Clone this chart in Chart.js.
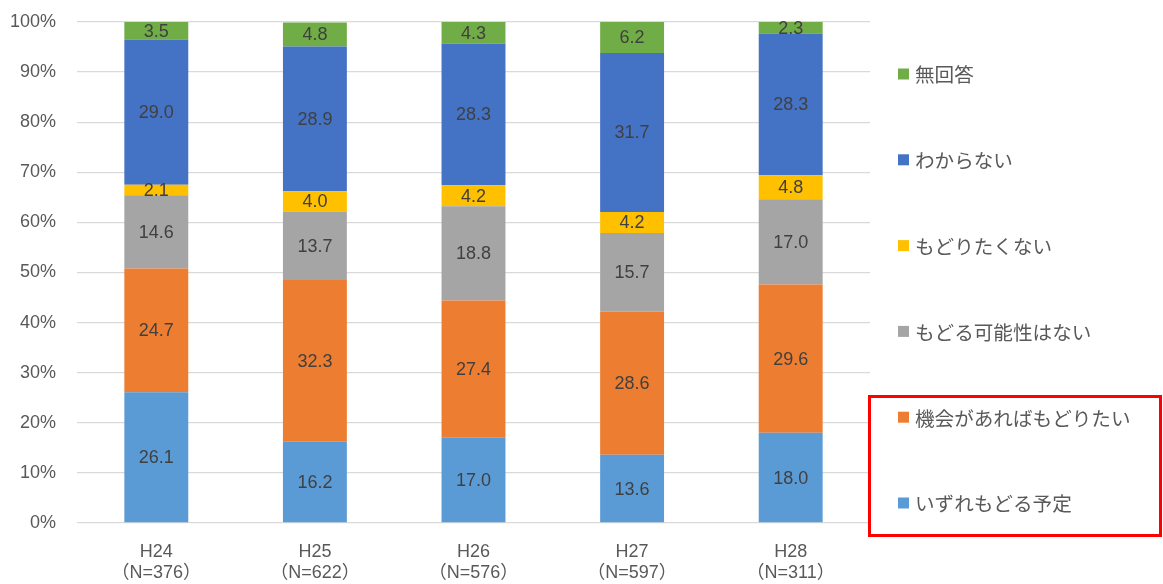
<!DOCTYPE html>
<html>
<head>
<meta charset="utf-8">
<script src="https://cdn.jsdelivr.net/npm/chart.js@4.4.0/dist/chart.umd.min.js"></script>
<style>
  html, body { margin: 0; padding: 0; background: #fff; }
  #wrap { position: relative; width: 1163px; height: 584px; }
</style>
</head>
<body>
<div id="wrap"><canvas id="c"></canvas></div>
<script>
// ---- data ----
const categories = [
  ['H24', '（N=376）'],
  ['H25', '（N=622）'],
  ['H26', '（N=576）'],
  ['H27', '（N=597）'],
  ['H28', '（N=311）']
];
const seriesNames = ['いずれもどる予定', '機会があればもどりたい', 'もどる可能性はない', 'もどりたくない', 'わからない', '無回答'];
const seriesColors = ['#5B9BD5', '#ED7D31', '#A5A5A5', '#FFC000', '#4472C4', '#70AD47'];
const plannedReturn   = [26.1, 16.2, 17.0, 13.6, 18.0];
const returnIfChance  = [24.7, 32.3, 27.4, 28.6, 29.6];
const noPossibility   = [14.6, 13.7, 18.8, 15.7, 17.0];
const dontWantReturn  = [2.1, 4.0, 4.2, 4.2, 4.8];
const dontKnow        = [29.0, 28.9, 28.3, 31.7, 28.3];
const noAnswer        = [3.5, 4.8, 4.3, 6.2, 2.3];
const yTicks = [0, 10, 20, 30, 40, 50, 60, 70, 80, 90, 100];

const seriesValues = [plannedReturn, returnIfChance, noPossibility, dontWantReturn, dontKnow, noAnswer];

const FONT = '"Liberation Sans", "Noto Sans CJK JP", sans-serif';
const JFONT = '"Noto Sans CJK JP", sans-serif';

const valueLabels = {
  id: 'valueLabels',
  afterDatasetsDraw(chart) {
    const ctx = chart.ctx;
    ctx.save();
    ctx.font = '18px ' + FONT;
    ctx.fillStyle = '#404040';
    ctx.textAlign = 'center';
    ctx.textBaseline = 'middle';
    chart.data.datasets.forEach((ds, i) => {
      const meta = chart.getDatasetMeta(i);
      meta.data.forEach((el, j) => {
        const p = el.getProps(['x', 'y', 'base'], true);
        ctx.fillText(ds.data[j].toFixed(1), p.x, (p.y + p.base) / 2 + 1);
      });
    });
    ctx.restore();
  }
};

const sideLegend = {
  id: 'sideLegend',
  afterDraw(chart) {
    const ctx = chart.ctx;
    ctx.save();
    const n = chart.data.datasets.length;
    const startY = 74, step = 85.8;
    ctx.font = '19.6px ' + JFONT;
    ctx.textBaseline = 'middle';
    ctx.textAlign = 'left';
    for (let k = 0; k < n; k++) {
      const ds = chart.data.datasets[n - 1 - k];
      const cy = startY + k * step;
      ctx.fillStyle = ds.backgroundColor;
      ctx.fillRect(898, cy - 5.5, 11, 11);
      ctx.fillStyle = '#595959';
      ctx.fillText(ds.label, 915, cy + 1);
    }
    ctx.strokeStyle = '#FF0000';
    ctx.lineWidth = 3;
    ctx.strokeRect(869.5, 396.5, 291, 139);
    ctx.restore();
  }
};

new Chart(document.getElementById('c'), {
  type: 'bar',
  data: {
    labels: categories,
    datasets: seriesNames.map((name, i) => ({
      label: name,
      data: seriesValues[i],
      backgroundColor: seriesColors[i],
      borderWidth: 0,
      categoryPercentage: 1,
      barPercentage: 0.403
    }))
  },
  options: {
    responsive: true,
    maintainAspectRatio: false,
    animation: false,
    devicePixelRatio: 1,
    layout: { padding: { left: 0, right: 293, top: 22, bottom: 0 } },
    plugins: { legend: { display: false }, tooltip: { enabled: false } },
    scales: {
      x: {
        stacked: true,
        grid: { display: false, drawTicks: false },
        border: { display: false },
        ticks: { color: '#595959', font: { family: FONT, size: 18 }, padding: 18, maxRotation: 0 },
        afterFit(scale) { scale.height = 61; scale.paddingLeft = 0; scale.paddingRight = 0; }
      },
      y: {
        stacked: true,
        min: 0,
        max: 100,
        afterBuildTicks(scale) { scale.ticks = yTicks.map(v => ({ value: v })); },
        grid: { color: '#D9D9D9', lineWidth: 1.3, drawTicks: false },
        border: { display: false },
        ticks: {
          color: '#595959',
          font: { family: FONT, size: 18 },
          padding: 21,
          callback: v => v + '%'
        },
        afterFit(scale) { scale.width = 77; scale.paddingTop = 0; scale.paddingBottom = 0; }
      }
    }
  },
  plugins: [valueLabels, sideLegend]
});
</script>
</body>
</html>
